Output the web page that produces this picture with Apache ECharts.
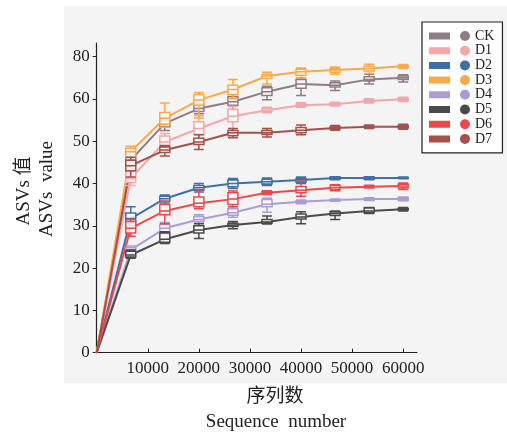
<!DOCTYPE html>
<html>
<head>
<meta charset="utf-8">
<script src="https://cdn.jsdelivr.net/npm/echarts@6/dist/echarts.min.js"></script>
<style>
  html, body { margin: 0; padding: 0; background: #fff; }
  #chart { width: 507px; height: 432px; }
</style>
</head>
<body>
<div id="chart"></div>
<script>
// 抽样序列数
const xValues = [6667, 13333, 20000, 26667, 33333, 40000, 46667, 53333, 60000]
const xTicks = [10000, 20000, 30000, 40000, 50000, 60000]
// 纵轴刻度（原图最上一个刻度标成 80）
const yTicks = [0, 10, 20, 30, 40, 50, 60, 70]
const yTickLabels = ['0', '10', '20', '30', '40', '50', '60', '80']

const names = ['CK', 'D1', 'D2', 'D3', 'D4', 'D5', 'D6', 'D7']
const colors = ['#8d7c86', '#f2a7ab', '#3f6fa6', '#f6aa4c', '#ab9dd2', '#4a4a4a', '#e9494a', '#a4504d']

// 每组：中位数(曲线)、下须、Q1、Q3、上须
const ckMed = [45.5, 54.2, 57.7, 59.3, 61.7, 63.5, 63.2, 64.6, 65.0]
const ckLo = [43.5, 52.5, 56.5, 57.5, 59.8, 60.8, 62.0, 63.5, 64.0]
const ckQ1 = [44.3, 53.4, 57.0, 58.5, 60.8, 62.5, 62.8, 64.2, 64.6]
const ckQ3 = [46.8, 54.8, 58.8, 60.5, 62.6, 64.6, 63.8, 65.2, 65.4]
const ckHi = [47.5, 55.3, 59.5, 61.0, 63.0, 65.0, 64.2, 65.8, 65.7]

const d1Med = [41.2, 49.8, 53.0, 55.9, 57.3, 58.5, 58.7, 59.5, 59.9]
const d1Lo = [39.5, 47.5, 50.5, 52.5, 56.7, 58.0, 58.3, 59.0, 59.4]
const d1Q1 = [40.2, 48.6, 51.6, 54.6, 57.0, 58.3, 58.5, 59.2, 59.6]
const d1Q3 = [42.8, 51.2, 54.6, 57.5, 57.8, 58.8, 59.0, 59.8, 60.2]
const d1Hi = [43.5, 51.8, 56.0, 58.2, 58.0, 59.1, 59.2, 60.0, 60.4]

const d2Med = [31.7, 36.4, 39.0, 40.0, 40.4, 40.8, 41.3, 41.3, 41.3]
const d2Lo = [30.0, 35.4, 38.0, 38.8, 39.5, 40.0, 40.9, 40.9, 41.1]
const d2Q1 = [30.8, 35.8, 38.4, 39.2, 39.9, 40.3, 41.0, 41.0, 41.2]
const d2Q3 = [33.0, 37.0, 39.5, 40.8, 41.0, 41.2, 41.5, 41.5, 41.4]
const d2Hi = [34.5, 37.3, 40.0, 41.2, 41.3, 41.5, 41.6, 41.6, 41.5]

const d3Med = [47.5, 55.4, 59.7, 62.2, 65.4, 66.4, 66.8, 67.2, 67.7]
const d3Lo = [45.5, 53.3, 55.5, 60.0, 63.5, 65.0, 65.8, 66.0, 67.2]
const d3Q1 = [46.2, 54.0, 58.5, 61.0, 64.8, 65.6, 66.3, 66.6, 67.4]
const d3Q3 = [48.3, 56.8, 61.0, 63.2, 65.8, 67.0, 67.2, 67.7, 67.9]
const d3Hi = [48.8, 59.0, 61.5, 64.6, 66.3, 67.3, 67.5, 68.2, 68.1]

const d4Med = [24.3, 29.4, 31.5, 33.1, 35.1, 35.7, 36.1, 36.3, 36.3]
const d4Lo = [23.5, 28.0, 30.6, 32.0, 33.2, 35.2, 35.8, 36.0, 35.9]
const d4Q1 = [23.8, 28.5, 31.0, 32.5, 34.5, 35.4, 35.9, 36.1, 36.0]
const d4Q3 = [24.8, 30.3, 32.2, 34.0, 36.2, 35.9, 36.2, 36.5, 36.7]
const d4Hi = [25.2, 30.8, 32.6, 34.5, 36.5, 36.1, 36.3, 36.6, 36.8]

const d5Med = [23.1, 26.8, 29.0, 30.2, 30.9, 32.1, 32.9, 33.5, 33.9]
const d5Lo = [22.3, 25.8, 27.0, 29.3, 30.4, 30.5, 31.5, 32.9, 33.5]
const d5Q1 = [22.6, 26.1, 28.3, 29.8, 30.6, 31.6, 32.4, 33.1, 33.7]
const d5Q3 = [24.0, 28.3, 30.0, 30.6, 31.5, 32.8, 33.3, 34.2, 34.1]
const d5Hi = [24.3, 28.6, 30.5, 31.0, 32.3, 33.3, 33.5, 34.3, 34.3]

const d6Med = [29.4, 33.5, 35.3, 36.3, 37.8, 38.4, 39.0, 39.2, 39.4]
const d6Lo = [27.5, 30.5, 34.0, 34.5, 37.4, 37.0, 38.3, 38.9, 38.6]
const d6Q1 = [28.3, 32.6, 34.5, 35.0, 37.6, 37.8, 38.5, 39.0, 39.0]
const d6Q3 = [31.0, 35.0, 36.8, 37.8, 38.1, 39.3, 39.5, 39.4, 39.8]
const d6Hi = [31.5, 35.8, 38.5, 38.2, 38.3, 40.5, 39.7, 39.6, 40.1]

const d7Med = [44.2, 47.9, 49.8, 52.0, 52.0, 52.6, 53.1, 53.4, 53.4]
const d7Lo = [41.5, 46.5, 48.0, 50.8, 51.0, 51.5, 52.6, 53.0, 52.8]
const d7Q1 = [43.0, 47.3, 49.2, 51.3, 51.6, 52.0, 52.9, 53.2, 53.1]
const d7Q3 = [45.5, 48.6, 50.7, 52.5, 52.5, 53.2, 53.4, 53.6, 53.7]
const d7Hi = [46.2, 49.0, 51.5, 53.0, 53.0, 53.8, 53.7, 53.8, 54.0]

const groups = [
  [ckMed, ckLo, ckQ1, ckQ3, ckHi],
  [d1Med, d1Lo, d1Q1, d1Q3, d1Hi],
  [d2Med, d2Lo, d2Q1, d2Q3, d2Hi],
  [d3Med, d3Lo, d3Q1, d3Q3, d3Hi],
  [d4Med, d4Lo, d4Q1, d4Q3, d4Hi],
  [d5Med, d5Lo, d5Q1, d5Q3, d5Hi],
  [d6Med, d6Lo, d6Q1, d6Q3, d6Hi],
  [d7Med, d7Lo, d7Q1, d7Q3, d7Hi]
]

const serif = '"Liberation Serif", "DejaVu Serif", serif'
const xMax = 62700
const yMax = 73.2

// 每个箱线图放在单独的隐藏 x 轴上，避免 ECharts 把同一位置的箱子错开
const xAxes = names.map((n, i) => ({
  type: 'value',
  min: 0,
  max: xMax,
  show: i === 0,
  axisLine: { lineStyle: { color: '#222', width: 1.2 } },
  axisTick: { inside: true, length: 4, lineStyle: { color: '#222' }, customValues: xTicks },
  axisLabel: { color: '#222', fontFamily: serif, fontSize: 17, margin: 7, customValues: xTicks, formatter: v => String(v) },
  splitLine: { show: false }
}))

const series = []
groups.forEach((g, i) => {
  const [med, lo, q1, q3, hi] = g
  series.push({
    name: names[i],
    type: 'line',
    xAxisIndex: 0,
    data: [[0, 0]].concat(xValues.map((x, k) => [x, med[k]])),
    symbol: 'none',
    lineStyle: { color: colors[i], width: 2 },
    itemStyle: { color: colors[i] },
    z: 2
  })
})
groups.forEach((g, i) => {
  const [med, lo, q1, q3, hi] = g
  series.push({
    name: names[i] + ' box',
    type: 'boxplot',
    xAxisIndex: i,
    boxWidth: [10, 10],
    data: xValues.map((x, k) => [x, lo[k], q1[k], med[k], q3[k], hi[k]]),
    itemStyle: { color: 'rgba(250,250,250,0.85)', borderColor: colors[i], borderWidth: 1.5 },
    z: 3
  })
})

const chart = echarts.init(document.getElementById('chart'))
chart.setOption({
  animation: false,
  grid: { left: 96.7, right: 90, top: 43, bottom: 79.3, containLabel: false },
  graphic: [
    { type: 'rect', z: -10, shape: { x: 64, y: 6, width: 443, height: 377 }, style: { fill: '#f4f4f4' } },
    { type: 'text', x: 24, y: 191, rotation: Math.PI / 2,
      style: { text: 'ASVs 值', font: '19px "Liberation Serif", "Noto Sans CJK SC"', fill: '#222', align: 'center', verticalAlign: 'middle' } },
    { type: 'text', x: 47, y: 189, rotation: Math.PI / 2,
      style: { text: 'ASVs  value', font: '19px ' + serif, fill: '#222', align: 'center', verticalAlign: 'middle' } },
    { type: 'text', x: 275, y: 395,
      style: { text: '序列数', font: '19px "Noto Sans CJK SC"', fill: '#222', align: 'center', verticalAlign: 'middle' } },
    { type: 'text', x: 276, y: 422,
      style: { text: 'Sequence  number', font: '19px ' + serif, fill: '#222', align: 'center', verticalAlign: 'middle' } }
  ],
  legend: {
    data: names,
    orient: 'vertical',
    left: 422,
    top: 22,
    padding: [7, 8, 7, 7],
    backgroundColor: '#fff',
    borderColor: '#222',
    borderWidth: 1.2,
    itemWidth: 41,
    itemHeight: 10,
    itemGap: 0.7,
    icon: 'path://M0 1.5H21V8.5H0Z M31 5A5 5 0 1 0 41 5A5 5 0 1 0 31 5Z',
    itemStyle: { borderWidth: 0 },
    textStyle: { color: '#222', fontFamily: serif, fontSize: 14, lineHeight: 14 }
  },
  xAxis: xAxes,
  yAxis: {
    type: 'value',
    min: 0,
    max: yMax,
    axisLine: { show: true, lineStyle: { color: '#222', width: 1.2 } },
    axisTick: { show: true, length: 4, lineStyle: { color: '#222' }, customValues: yTicks },
    axisLabel: {
      color: '#222', fontFamily: serif, fontSize: 17, margin: 7,
      customValues: yTicks,
      formatter: v => yTickLabels[yTicks.indexOf(v)]
    },
    splitLine: { show: false }
  },
  series: series
})
</script>
</body>
</html>
